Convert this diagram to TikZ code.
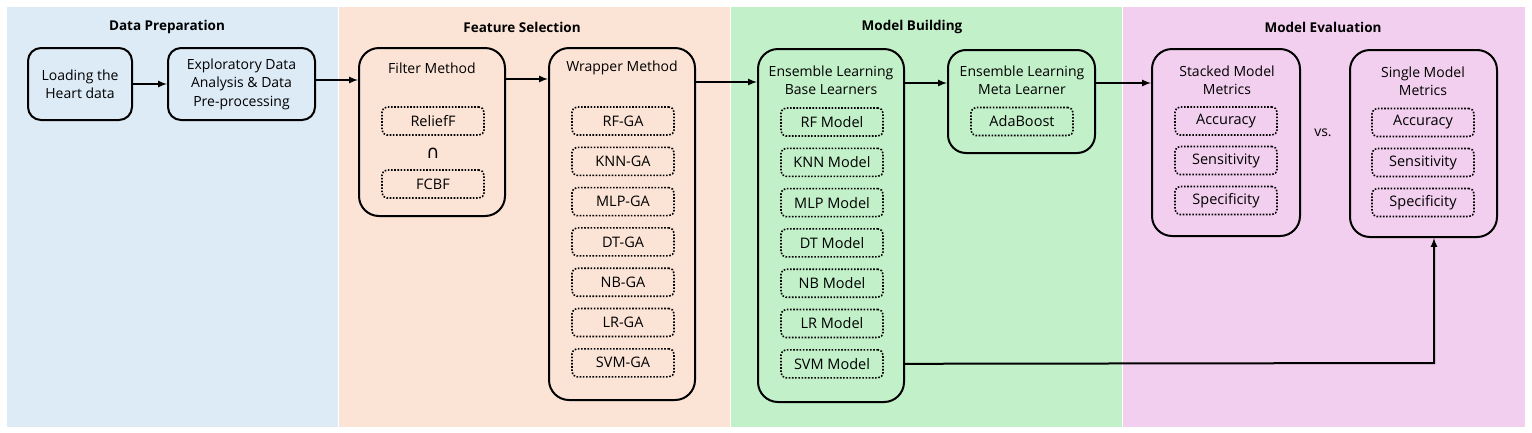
\documentclass[tikz,border=0pt]{standalone}
\usepackage{fontspec}
\setmainfont{Open Sans}
\newfontfamily\symbolfont{DejaVu Sans}
\usetikzlibrary{positioning,arrows,calc}

\definecolor{prepblue}{HTML}{DDEBF7}
\definecolor{selpeach}{HTML}{FBE3D6}
\definecolor{buildgreen}{HTML}{C2F0C9}
\definecolor{evalpink}{HTML}{F2CFEE}

\begin{document}
\begin{tikzpicture}[x=1pt,y=-1pt,
	heading/.style={font=\fontsize{13.5}{16}\selectfont\bfseries},
	stage/.style={draw,line width=2pt,rounded corners=20pt,inner sep=0pt},
	txt/.style={font=\fontsize{14}{18.5}\selectfont,align=center},
	item/.style={draw,line width=1.6pt,dash pattern=on 1.6pt off 1.6pt,rounded corners=5pt,
		minimum width=102pt,minimum height=28pt,inner sep=0pt,font=\fontsize{14.5}{15}\selectfont},
	flow/.style={-latex,line width=2pt}]

		% background panels
		\fill[white] (0,0) rectangle (1532,432);
		\fill[prepblue] (7,7) rectangle (338,427);
		\fill[selpeach] (339,7) rectangle (730,427);
		\fill[buildgreen] (731,7) rectangle (1122,427);
		\fill[evalpink] (1123,7) rectangle (1525,427);

		\node[heading] (hprep) at (167,27) {Data Preparation};
		\node[heading] (hsel) at (522,27) {Feature Selection};
		\node[heading] (hbuild) at (912,27) {Model Building};
		\node[heading] (heval) at (1323,27) {Model Evaluation};

		% data preparation
		\node[stage,txt,rounded corners=13pt,minimum width=104pt,minimum height=72pt] (load) at (80,84) {Loading the\\Heart data};
		\node[stage,txt,rounded corners=13pt,minimum width=147pt,minimum height=72pt] (eda) at (241.5,84) {Exploratory Data\\Analysis \& Data\\Pre-processing};

		% feature selection
		\node[stage,minimum width=146pt,minimum height=168pt] (filter) at (432,132) {};
		\node[txt] (ftitle) at (432,68) {Filter Method};
		\node[item] (relief) at (433,121) {ReliefF};
		\node[txt,font=\fontsize{18}{18}\symbolfont] (cap) at (433,153) {∩};
		\node[item] (fcbf) at (433,184) {FCBF};

		\node[stage,minimum width=146pt,minimum height=352pt] (wrapper) at (622,224) {};
		\node[txt] (wtitle) at (622,68) {Wrapper Method};
		\foreach \lbl [count=\i] in {RF-GA,KNN-GA,MLP-GA,DT-GA,NB-GA,LR-GA,SVM-GA}
			\node[item] (wg\i) at (623,{121+40.3*(\i-1)}) {\lbl};

		% model building
		\node[stage,minimum width=146pt,minimum height=353pt] (base) at (831,225.5) {};
		\node[txt] (btitle) at (831,80) {Ensemble Learning\\Base Learners};
		\foreach \lbl [count=\i] in {RF,KNN,MLP,DT,NB,LR,SVM}
			\node[item] (bm\i) at (832,{122+40.3*(\i-1)}) {\lbl{} Model};

		\node[stage,rounded corners=18pt,minimum width=147pt,minimum height=103pt] (meta) at (1021.5,101.5) {};
		\node[txt] (mtitle) at (1022,80) {Ensemble Learning\\Meta Learner};
		\node[item] (ada) at (1022,121.5) {AdaBoost};

		% model evaluation
		\node[stage,minimum width=148pt,minimum height=187pt] (stacked) at (1226,142.5) {};
		\node[txt] (stitle) at (1227,80) {Stacked Model\\Metrics};
		\node[item] (sacc) at (1226,121) {Accuracy};
		\node[item] (ssen) at (1226,160.5) {Sensitivity};
		\node[item] (sspe) at (1226,200.5) {Specificity};

		\node[txt] (vs) at (1323,133) {vs.};

		\node[stage,minimum width=147pt,minimum height=187pt] (single) at (1423.5,143.5) {};
		\node[txt] (gtitle) at (1423,81) {Single Model\\Metrics};
		\node[item] (gacc) at (1423,122.5) {Accuracy};
		\node[item] (gsen) at (1423,162.5) {Sensitivity};
		\node[item] (gspe) at (1423,202.5) {Specificity};

		% connectors
		\draw[flow] (load) -- (eda);
		\draw[flow] ([yshift=4pt]eda.east) -- ([yshift=4pt]eda.east -| filter.west);
		\draw[flow] ([yshift=-32pt]filter.north east) -- ([yshift=-32pt]filter.north east -| wrapper.west);
		\draw[flow] ([yshift=-35pt]wrapper.north east) -- ([yshift=-35pt]wrapper.north east -| base.west);
		\draw[flow] ([yshift=-35pt]base.north east) -- ([yshift=-35pt]base.north east -| meta.west);
		\draw[flow] ([yshift=-34pt]meta.north east) -- ([yshift=-34pt]meta.north east -| stacked.west);
		\coordinate (turn) at (1434,363);
		\draw[flow] (bm7 -| base.east) -- (turn) -- (turn |- single.south);
	\end{tikzpicture}
\end{document}
